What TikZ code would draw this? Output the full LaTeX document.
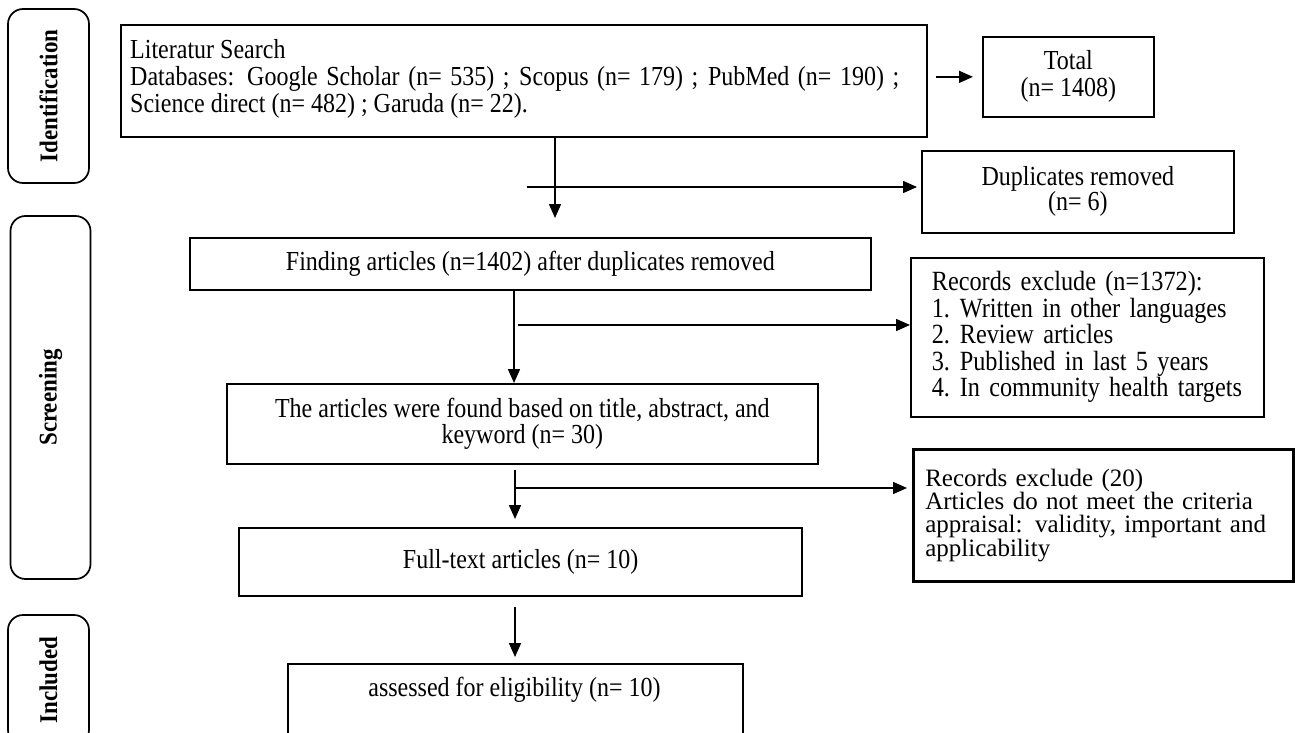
\documentclass[tikz,border=0pt]{standalone}
\usepackage{fontspec}
\setmainfont{Liberation Serif}[FakeStretch=0.873]
\newfontfamily\widefont{Liberation Serif}
\newfontfamily\labfont{Liberation Serif}[FakeStretch=0.9]
\usetikzlibrary{arrows.meta,calc}
\tikzset{
  box/.style={draw, line width=1.7pt, rectangle, inner sep=0pt, font=\fontsize{27.5}{27}\selectfont},
  stage/.style={draw, line width=1.7pt, rounded corners=15pt, rotate=90, inner sep=0pt, font=\labfont\fontsize{25.5}{26}\selectfont\bfseries},
  arr/.style={line width=1.5pt, -{Triangle[length=14pt,width=12pt]}},
  plain/.style={inner sep=0pt, font=\fontsize{27.5}{27}\selectfont},
}
\newcommand\itm[2]{\mbox{\makebox[28pt][l]{#1}#2}}
\begin{document}
\begin{tikzpicture}[x=1pt,y=-1pt]
\useasboundingbox (0,0) rectangle (1295,733);
\fill[white] (0,0) rectangle (1295,733);
\clip (0,0) rectangle (1295,733);

% stage labels
\node[stage, minimum width=174pt, minimum height=81pt] (ident) at (48.5,96) {Identification};
\node[stage, minimum width=363pt, minimum height=80pt] (screen) at (50.5,397.5) {Screening};
\node[stage, minimum width=130pt, minimum height=81pt] (incl) at (48.5,680) {Included};

% boxes
\node[box, minimum width=806pt, minimum height=112pt, anchor=north west] (lit) at (120,24) {};
\node[plain, anchor=north west, text width=769pt, align=justify] (littext) at (130,39)
  {Literatur Search\\Databases: Google Scholar (n= 535) ; Scopus (n= 179) ; PubMed (n= 190) ;\linebreak Science direct (n= 482) ; Garuda (n= 22).};

\node[box, minimum width=171pt, minimum height=80pt, anchor=north west, align=center] (total) at (982,36) {Total\\(n= 1408)};
\node[box, minimum width=312pt, minimum height=82pt, anchor=north west, align=center, font=\fontsize{27.5}{25}\selectfont] (dup) at (921,150) {Duplicates removed\\(n= 6)};

\node[box, minimum width=681pt, minimum height=52pt, anchor=north west] (find) at (189,237) {Finding articles (n=1402) after duplicates removed};

\node[box, minimum width=353pt, minimum height=159pt, anchor=north west, text width=311pt, inner xsep=21pt, align=left, font=\fontsize{27.8}{26.5}\selectfont] (rec1) at (910,257)
  {\mbox{Records exclude (n=1372):}\\\itm{1.}{Written in other languages}\\\itm{2.}{Review articles}\\\itm{3.}{Published in last 5 years}\\\itm{4.}{In community health targets}};

\node[box, minimum width=591pt, minimum height=80pt, anchor=north west, align=center, font=\fontsize{27.5}{26}\selectfont] (art) at (226,383)
  {The articles were found based on title, abstract, and\\keyword (n= 30)};

\node[box, line width=2.6pt, minimum width=380pt, minimum height=132pt, anchor=north west, text width=356pt, inner xsep=12pt, align=left, font=\widefont\fontsize{25}{23.3}\selectfont] (rec2) at (912,448)
  {Records exclude (20)\\Articles do not meet the criteria\\appraisal: validity, important and\\applicability};

\node[box, line width=2.4pt, minimum width=563pt, minimum height=68pt, anchor=north west] (full) at (238,527) {Full-text articles (n= 10)};

\node[box, line width=2.2pt, minimum width=455pt, minimum height=100pt, anchor=north west] (ass) at (287,663) {};
\node[plain] (asstext) at (514.5,690) {assessed for eligibility (n= 10)};

% connectors
\coordinate (xa) at (555,0);
\coordinate (xb) at (514,0);
\coordinate (xc) at (515,0);
\coordinate (b1) at (527,187);
\coordinate (b2) at (518,325);
\coordinate (b3) at (516,488);

\draw[arr, shorten >=19pt] (xa |- lit.south) -- (xa |- find.north);
\draw[arr, shorten >=4pt] (b1) -- (b1 -| dup.west);
\draw[arr, shorten <=8pt, shorten >=9pt] (lit.east |- total.west) -- (total.west);

\draw[arr] (xb |- find.south) -- (xb |- art.north);
\draw[arr] (b2) -- (b2 -| rec1.west);

\draw[arr, shorten <=5pt, shorten >=8pt] (xc |- art.south) -- (xc |- full.north);
\draw[arr, shorten >=5pt] (b3) -- (b3 -| rec2.west);

\draw[arr, shorten <=10pt, shorten >=6pt] (xc |- full.south) -- (xc |- ass.north);
\end{tikzpicture}
\end{document}
